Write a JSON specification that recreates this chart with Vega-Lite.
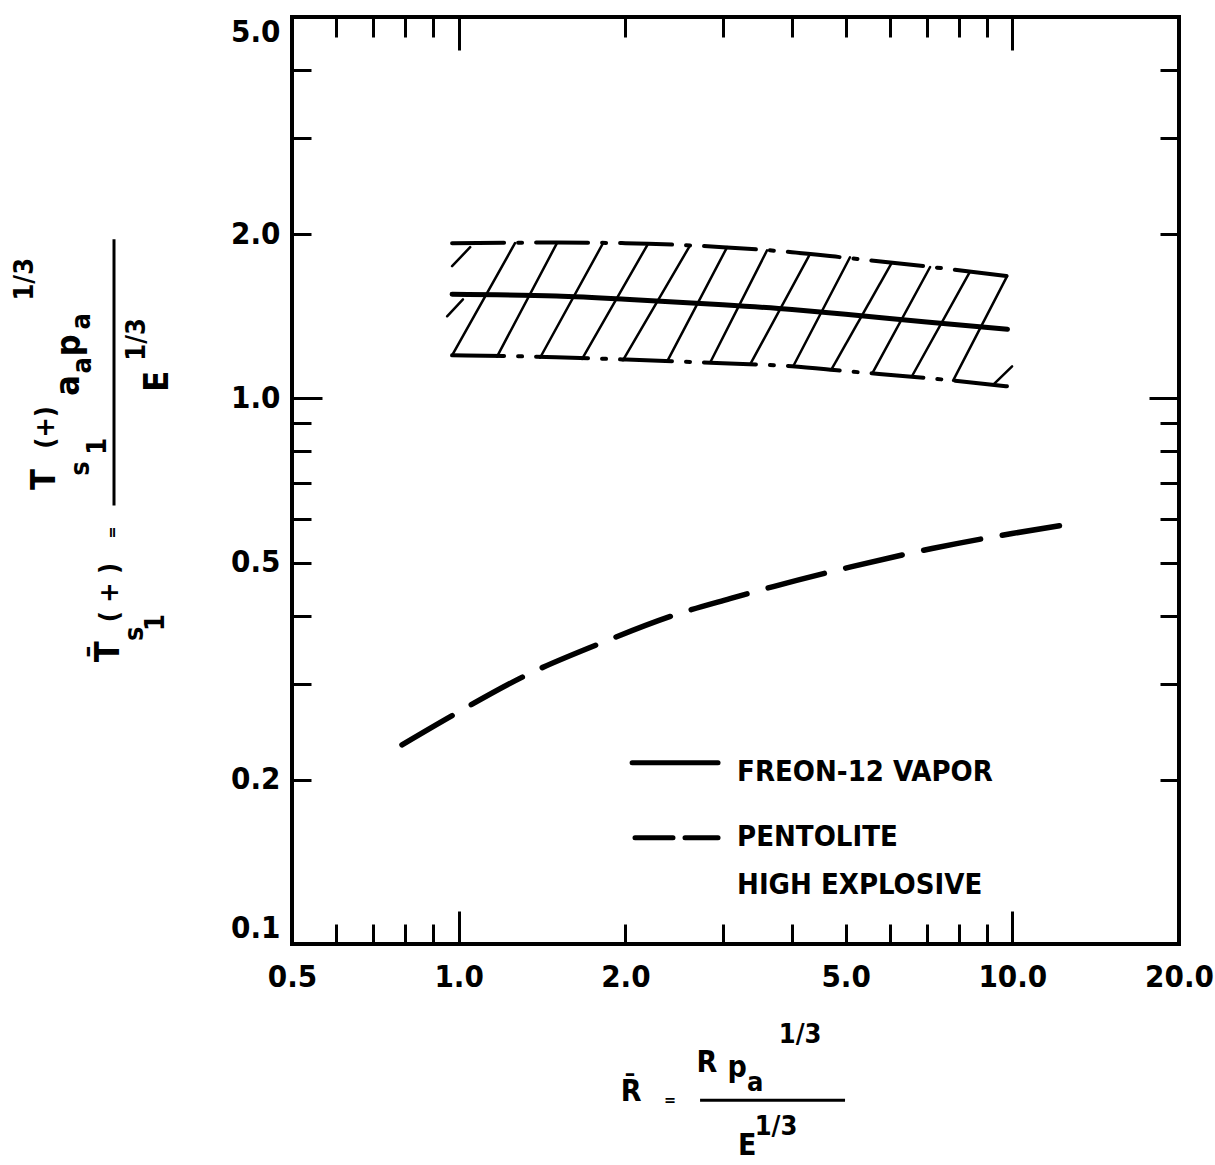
{
  "$schema": "https://vega.github.io/schema/vega-lite/v6.json",
  "width": 887,
  "height": 927,
  "autosize": "none",
  "padding": {"left": 292, "top": 17, "right": 36, "bottom": 221},
  "background": "white",
  "config": {
    "view": {"stroke": "black", "strokeWidth": 4},
    "font": "DejaVu Sans Condensed"
  },
  "datasets": {
    "curves": [
      {"series": "freon", "x": 0.973, "y": 1.552},
      {"series": "freon", "x": 1.5, "y": 1.54},
      {"series": "freon", "x": 2.0, "y": 1.52},
      {"series": "freon", "x": 3.0, "y": 1.485},
      {"series": "freon", "x": 4.0, "y": 1.455},
      {"series": "freon", "x": 5.0, "y": 1.426},
      {"series": "freon", "x": 7.0, "y": 1.38},
      {"series": "freon", "x": 9.8, "y": 1.339},
      {"series": "upper", "x": 0.973, "y": 1.925},
      {"series": "upper", "x": 1.5, "y": 1.93},
      {"series": "upper", "x": 2.0, "y": 1.925},
      {"series": "upper", "x": 3.0, "y": 1.893},
      {"series": "upper", "x": 4.0, "y": 1.853},
      {"series": "upper", "x": 5.0, "y": 1.81},
      {"series": "upper", "x": 7.0, "y": 1.745},
      {"series": "upper", "x": 9.8, "y": 1.675},
      {"series": "lower", "x": 0.973, "y": 1.199},
      {"series": "lower", "x": 1.5, "y": 1.19},
      {"series": "lower", "x": 2.0, "y": 1.178},
      {"series": "lower", "x": 3.0, "y": 1.16},
      {"series": "lower", "x": 4.0, "y": 1.145},
      {"series": "lower", "x": 5.0, "y": 1.122},
      {"series": "lower", "x": 7.0, "y": 1.09},
      {"series": "lower", "x": 9.8, "y": 1.052},
      {"series": "pentolite", "x": 0.79, "y": 0.2318},
      {"series": "pentolite", "x": 0.993, "y": 0.2653},
      {"series": "pentolite", "x": 1.329, "y": 0.3115},
      {"series": "pentolite", "x": 1.815, "y": 0.3567},
      {"series": "pentolite", "x": 2.532, "y": 0.405},
      {"series": "pentolite", "x": 3.09, "y": 0.4295},
      {"series": "pentolite", "x": 3.7, "y": 0.452},
      {"series": "pentolite", "x": 5.13, "y": 0.4916},
      {"series": "pentolite", "x": 7.16, "y": 0.5306},
      {"series": "pentolite", "x": 9.99, "y": 0.5654},
      {"series": "pentolite", "x": 12.9, "y": 0.5898}
    ],
    "hatch": [
      {"x": 0.973, "y": 1.199, "x2": 1.264, "y2": 1.925},
      {"x": 1.173, "y": 1.193, "x2": 1.505, "y2": 1.925},
      {"x": 1.403, "y": 1.187, "x2": 1.823, "y2": 1.925},
      {"x": 1.671, "y": 1.181, "x2": 2.198, "y2": 1.92},
      {"x": 1.981, "y": 1.175, "x2": 2.618, "y2": 1.907},
      {"x": 2.379, "y": 1.168, "x2": 3.054, "y2": 1.893},
      {"x": 2.845, "y": 1.162, "x2": 3.606, "y2": 1.868},
      {"x": 3.361, "y": 1.154, "x2": 4.312, "y2": 1.84},
      {"x": 4.018, "y": 1.144, "x2": 5.091, "y2": 1.814},
      {"x": 4.725, "y": 1.135, "x2": 6.063, "y2": 1.776},
      {"x": 5.604, "y": 1.118, "x2": 7.104, "y2": 1.741},
      {"x": 6.591, "y": 1.099, "x2": 8.386, "y2": 1.707},
      {"x": 7.816, "y": 1.078, "x2": 9.786, "y2": 1.675},
      {"x": 9.23, "y": 1.059, "x2": 9.99, "y2": 1.145},
      {"x": 0.953, "y": 1.414, "x2": 1.018, "y2": 1.519},
      {"x": 0.973, "y": 1.747, "x2": 1.049, "y2": 1.893}
    ],
    "legendLines": [
      {"series": "freon", "x": 2.057, "y": 0.2148},
      {"series": "freon", "x": 2.941, "y": 0.2148},
      {"series": "pentolite", "x": 2.082, "y": 0.1565},
      {"series": "pentolite", "x": 2.941, "y": 0.1565}
    ],
    "legendText": [
      {"text": "FREON-12 VAPOR", "x": 3.183, "y": 0.2068},
      {"text": "PENTOLITE", "x": 3.183, "y": 0.1572},
      {"text": "HIGH EXPLOSIVE", "x": 3.183, "y": 0.1283}
    ],
    "titleText": [
      {"part": "vBig", "text": "T\u0304", "x": 0.2335, "y": 0.3433},
      {"part": "vBig", "text": "T", "x": 0.179, "y": 0.71},
      {"part": "vBig", "text": "a", "x": 0.1978, "y": 1.056},
      {"part": "vBig", "text": "p", "x": 0.1986, "y": 1.251},
      {"part": "vBig", "text": "E", "x": 0.2863, "y": 1.075},
      {"part": "vMid", "text": "s", "x": 0.2603, "y": 0.3705},
      {"part": "vMid", "text": "1", "x": 0.284, "y": 0.3881},
      {"part": "vMid", "text": "( + )", "x": 0.2345, "y": 0.4406},
      {"part": "vMid", "text": "s", "x": 0.2079, "y": 0.7437},
      {"part": "vMid", "text": "1", "x": 0.2231, "y": 0.8165},
      {"part": "vMid", "text": "(+)", "x": 0.1797, "y": 0.8847},
      {"part": "vMid", "text": "a", "x": 0.2096, "y": 1.15},
      {"part": "vMid", "text": "a", "x": 0.2088, "y": 1.384},
      {"part": "vMid", "text": "1/3", "x": 0.1647, "y": 1.653},
      {"part": "vMid", "text": "1/3", "x": 0.2624, "y": 1.283},
      {"part": "vEq", "text": "=", "x": 0.2365, "y": 0.5677},
      {"part": "hBig", "text": "R\u0304", "x": 2.048, "y": 0.05351},
      {"part": "hBig", "text": "R", "x": 2.809, "y": 0.06048},
      {"part": "hBig", "text": "p", "x": 3.183, "y": 0.05922},
      {"part": "hBig", "text": "E", "x": 3.319, "y": 0.04259},
      {"part": "hMid", "text": "a", "x": 3.431, "y": 0.05559},
      {"part": "hMid", "text": "1/3", "x": 4.137, "y": 0.06808},
      {"part": "hMid", "text": "1/3", "x": 3.743, "y": 0.04615},
      {"part": "hEq", "text": "=", "x": 2.409, "y": 0.05173}
    ],
    "titleBars": [
      {"x": 0.2385, "x2": 0.2385, "y": 1.957, "y2": 0.6362},
      {"x": 2.729, "x2": 4.987, "y": 0.05173, "y2": 0.05173}
    ]
  },
  "encoding": {
    "x": {"field": "x", "type": "quantitative", "scale": {"type": "log", "domain": [0.5, 20], "nice": false, "zero": false}, "axis": null},
    "y": {"field": "y", "type": "quantitative", "scale": {"type": "log", "domain": [0.1, 5], "nice": false, "zero": false}, "axis": null}
  },
  "layer": [
    {
      "data": {"name": "hatch"},
      "mark": {"type": "rule", "color": "black", "strokeWidth": 2.5, "strokeCap": "round"},
      "encoding": {
        "x2": {"field": "x2"},
        "y2": {"field": "y2"}
      }
    },
    {
      "data": {"name": "curves"},
      "transform": [{"filter": "datum.series == 'upper' || datum.series == 'lower'"}],
      "mark": {"type": "line", "color": "black", "strokeWidth": 4, "interpolate": "monotone", "strokeCap": "round", "strokeDash": [52, 14, 4, 14]},
      "encoding": {"detail": {"field": "series"}}
    },
    {
      "data": {"name": "curves"},
      "transform": [{"filter": "datum.series == 'freon'"}],
      "mark": {"type": "line", "color": "black", "strokeWidth": 5, "interpolate": "monotone", "strokeCap": "round"},
      "encoding": {
        "x": {"field": "x", "type": "quantitative", "scale": {"type": "log", "domain": [0.5, 20], "nice": false, "zero": false},
          "axis": {"orient": "bottom", "title": null, "domain": false, "grid": false,
            "values": [0.5, 0.6, 0.7, 0.8, 0.9, 1, 2, 3, 4, 5, 6, 7, 8, 9, 10, 20],
            "labelExpr": "indexof([0.5, 1, 2, 5, 10, 20], datum.value) >= 0 ? format(datum.value, '.1f') : ''",
            "tickColor": "black", "tickWidth": 3,
            "tickSize": {"condition": {"test": "datum.value == 1 || datum.value == 10", "value": -33}, "value": -20},
            "labelFont": "DejaVu Sans Condensed", "labelFontWeight": "bold", "labelFontSize": 31, "labelColor": "black",
            "labelPadding": {"condition": {"test": "datum.value == 1 || datum.value == 10", "value": 51}, "value": 38},
            "labelOverlap": false, "labelFlush": false, "labelBound": false}},
        "y": {"field": "y", "type": "quantitative", "scale": {"type": "log", "domain": [0.1, 5], "nice": false, "zero": false},
          "axis": {"orient": "left", "title": null, "domain": false, "grid": false,
            "values": [0.1, 0.2, 0.3, 0.4, 0.5, 0.6, 0.7, 0.8, 0.9, 1, 2, 3, 4, 5],
            "labelExpr": "indexof([0.1, 0.2, 0.5, 1, 2, 5], datum.value) >= 0 ? format(datum.value, '.1f') : ''",
            "tickColor": "black", "tickWidth": 3,
            "tickSize": {"condition": {"test": "datum.value == 1", "value": -30}, "value": -19},
            "labelFont": "DejaVu Sans Condensed", "labelFontWeight": "bold", "labelFontSize": 31, "labelColor": "black",
            "labelPadding": {"condition": {"test": "datum.value == 1", "value": 42}, "value": 31},
            "labelOverlap": false, "labelFlush": true, "labelBound": false}}
      }
    },
    {
      "data": {"name": "curves"},
      "transform": [{"filter": "datum.series == 'pentolite'"}],
      "mark": {"type": "line", "color": "black", "strokeWidth": 5.5, "interpolate": "monotone", "strokeCap": "round", "strokeDash": [58, 22]},
      "encoding": {
        "x": {"field": "x", "type": "quantitative", "scale": {"type": "log", "domain": [0.5, 20], "nice": false, "zero": false},
          "axis": {"orient": "top", "title": null, "domain": false, "grid": false, "labels": false,
            "values": [0.5, 0.6, 0.7, 0.8, 0.9, 1, 2, 3, 4, 5, 6, 7, 8, 9, 10, 20],
            "tickColor": "black", "tickWidth": 3,
            "tickSize": {"condition": {"test": "datum.value == 1 || datum.value == 10", "value": -33}, "value": -20}}},
        "y": {"field": "y", "type": "quantitative", "scale": {"type": "log", "domain": [0.1, 5], "nice": false, "zero": false},
          "axis": {"orient": "right", "title": null, "domain": false, "grid": false, "labels": false,
            "values": [0.1, 0.2, 0.3, 0.4, 0.5, 0.6, 0.7, 0.8, 0.9, 1, 2, 3, 4, 5],
            "tickColor": "black", "tickWidth": 3,
            "tickSize": {"condition": {"test": "datum.value == 1", "value": -30}, "value": -19}}}
      }
    },
    {
      "data": {"name": "legendLines"},
      "transform": [{"filter": "datum.series == 'freon'"}],
      "mark": {"type": "line", "color": "black", "strokeWidth": 5, "strokeCap": "round"},
      "encoding": {}
    },
    {
      "data": {"name": "legendLines"},
      "transform": [{"filter": "datum.series == 'pentolite'"}],
      "mark": {"type": "line", "color": "black", "strokeWidth": 5, "strokeCap": "round", "strokeDash": [38, 12]},
      "encoding": {}
    },
    {
      "data": {"name": "legendText"},
      "mark": {"type": "text", "align": "left", "baseline": "middle", "font": "DejaVu Sans Condensed", "fontWeight": "bold", "fontSize": 29, "color": "black"},
      "encoding": {"text": {"field": "text"}}
    },
    {
      "data": {"name": "titleText"},
      "transform": [{"filter": "datum.part == 'vBig'"}],
      "mark": {"type": "text", "angle": 270, "align": "center", "baseline": "middle", "font": "DejaVu Sans Condensed", "fontWeight": "bold", "fontSize": 34, "color": "black"},
      "encoding": {"text": {"field": "text"}}
    },
    {
      "data": {"name": "titleText"},
      "transform": [{"filter": "datum.part == 'vMid'"}],
      "mark": {"type": "text", "angle": 270, "align": "center", "baseline": "middle", "font": "DejaVu Sans Condensed", "fontWeight": "bold", "fontSize": 27, "color": "black"},
      "encoding": {"text": {"field": "text"}}
    },
    {
      "data": {"name": "titleText"},
      "transform": [{"filter": "datum.part == 'vEq'"}],
      "mark": {"type": "text", "angle": 270, "align": "center", "baseline": "middle", "font": "DejaVu Sans Condensed", "fontWeight": "bold", "fontSize": 16, "color": "black"},
      "encoding": {"text": {"field": "text"}}
    },
    {
      "data": {"name": "titleText"},
      "transform": [{"filter": "datum.part == 'hBig'"}],
      "mark": {"type": "text", "align": "center", "baseline": "middle", "font": "DejaVu Sans Condensed", "fontWeight": "bold", "fontSize": 30, "color": "black"},
      "encoding": {"text": {"field": "text"}}
    },
    {
      "data": {"name": "titleText"},
      "transform": [{"filter": "datum.part == 'hMid'"}],
      "mark": {"type": "text", "align": "center", "baseline": "middle", "font": "DejaVu Sans Condensed", "fontWeight": "bold", "fontSize": 27, "color": "black"},
      "encoding": {"text": {"field": "text"}}
    },
    {
      "data": {"name": "titleText"},
      "transform": [{"filter": "datum.part == 'hEq'"}],
      "mark": {"type": "text", "align": "center", "baseline": "middle", "font": "DejaVu Sans Condensed", "fontWeight": "bold", "fontSize": 16, "color": "black"},
      "encoding": {"text": {"field": "text"}}
    },
    {
      "data": {"name": "titleBars"},
      "mark": {"type": "rule", "color": "black", "strokeWidth": 3},
      "encoding": {
        "x2": {"field": "x2"},
        "y2": {"field": "y2"}
      }
    }
  ],
  "resolve": {"axis": {"x": "independent", "y": "independent"}}
}
